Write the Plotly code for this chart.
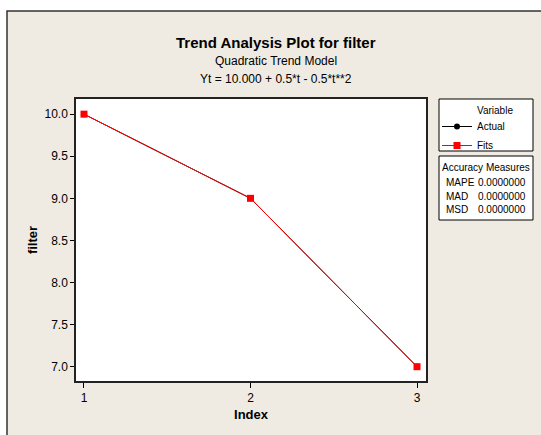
import plotly.graph_objects as go

index = [1, 2, 3]
actual = [10.0, 9.0, 7.0]
fits = [10.0, 9.0, 7.0]
x_ticks = [1, 2, 3]
y_ticks = [7.0, 7.5, 8.0, 8.5, 9.0, 9.5, 10.0]
y_tick_labels = ["7.0", "7.5", "8.0", "8.5", "9.0", "9.5", "10.0"]
acc_names = ["MAPE", "MAD", "MSD"]
acc_values = ["0.0000000", "0.0000000", "0.0000000"]

FONT = "Liberation Sans, Arial, sans-serif"
BEIGE = "#EFEBE2"

W, H = 541, 435
L, R, T, B = 76, 426, 99, 381


def px(xp):
    return (xp - L) / (R - L)


def py(yp):
    return (B - yp) / (B - T)


fig = go.Figure()
fig.add_trace(go.Scatter(
    x=index, y=actual, name="Actual", mode="lines+markers",
    line=dict(color="black", width=1),
    marker=dict(symbol="circle", size=6, color="black"),
))
fig.add_trace(go.Scatter(
    x=index, y=fits, name="Fits", mode="lines+markers",
    line=dict(color="#FF0000", width=1),
    marker=dict(symbol="square", size=7, color="#FF0000"),
))

shapes = [
    dict(type="rect", xref="paper", yref="paper", x0=px(7), x1=px(600),
         y0=py(500), y1=py(11), fillcolor=BEIGE,
         line=dict(color="#333333", width=1.5), layer="below"),
    dict(type="rect", xref="paper", yref="paper", x0=0, x1=1, y0=0, y1=1,
         fillcolor="white", line=dict(width=0), layer="below"),
    # legend box
    dict(type="rect", xref="paper", yref="paper", x0=px(439), x1=px(533),
         y0=py(151), y1=py(99), fillcolor="white",
         line=dict(color="black", width=1), layer="below"),
    # accuracy box
    dict(type="rect", xref="paper", yref="paper", x0=px(439), x1=px(533),
         y0=py(220), y1=py(156), fillcolor="white",
         line=dict(color="black", width=1), layer="above"),
]

annotations = [
    dict(text="<b>Trend Analysis Plot for filter</b>", x=px(276), y=py(43),
         font=dict(size=15, family=FONT, color="black")),
    dict(text="Quadratic Trend Model", x=px(276), y=py(61),
         font=dict(size=12, family=FONT, color="black")),
    dict(text="Yt = 10.000 + 0.5*t - 0.5*t**2", x=px(276), y=py(79),
         font=dict(size=12, family=FONT, color="black")),
    dict(text="Variable", x=px(495), y=py(111),
         font=dict(size=10, family=FONT, color="black")),
    dict(text="Accuracy Measures", x=px(486), y=py(167),
         font=dict(size=10, family=FONT, color="black")),
]
for i, (n, v) in enumerate(zip(acc_names, acc_values)):
    yy = py(182.5 + 13.5 * i)
    annotations.append(dict(text=n, x=px(444), y=yy, xanchor="left",
                            font=dict(size=10, family=FONT, color="black")))
    annotations.append(dict(text=v, x=px(528), y=yy, xanchor="right",
                            font=dict(size=10, family=FONT, color="black")))
for a in annotations:
    a.update(xref="paper", yref="paper", showarrow=False)
    a.setdefault("xanchor", "center")
    a["yanchor"] = "middle"

fig.update_layout(
    width=W, height=H,
    margin=dict(l=L, r=W - R, t=T, b=H - B, pad=0, autoexpand=False),
    paper_bgcolor="white", plot_bgcolor="white",
    font=dict(family=FONT, size=12, color="black"),
    showlegend=True,
    legend=dict(
        x=px(437), y=py(112), xanchor="left", yanchor="top",
        bgcolor="rgba(0,0,0,0)", borderwidth=0,
        font=dict(size=10, family=FONT),
        itemwidth=30, tracegroupgap=0,
    ),
    xaxis=dict(
        range=[0.952, 3.054], tickvals=x_ticks, ticktext=[str(t) for t in x_ticks],
        ticks="outside", ticklen=5, tickcolor="black", showgrid=False, zeroline=False,
        showline=True, linecolor="#222222", linewidth=1.5, mirror=True,
        title=dict(text="<b>Index</b>", font=dict(size=13, family=FONT), standoff=6),
        tickfont=dict(size=12, family=FONT),
    ),
    yaxis=dict(
        range=[6.83, 10.18], tickvals=y_ticks, ticktext=y_tick_labels,
        ticks="outside", ticklen=4, tickcolor="black", showgrid=False, zeroline=False,
        showline=True, linecolor="#222222", linewidth=1.5, mirror=True,
        title=dict(text="<b>filter</b>", font=dict(size=13, family=FONT), standoff=4),
        tickfont=dict(size=12, family=FONT),
    ),
    shapes=shapes,
    annotations=annotations,
)

fig.write_html("out.html", config={"displayModeBar": False},
               post_script="document.body.style.margin='0';")
